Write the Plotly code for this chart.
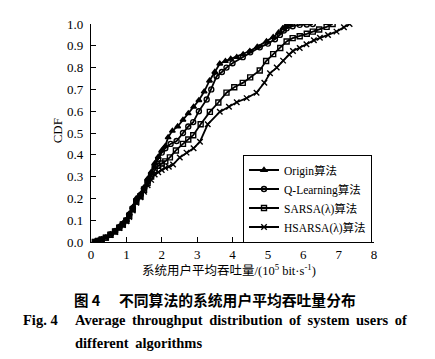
import plotly.graph_objects as go

# ---- data ----
origin_x = [0.11,0.2,0.3,0.42,0.55,0.68,0.8,0.9,1.0,1.08,1.18,1.28,1.4,1.5,1.6,1.7,1.8,1.9,2.0,2.1,2.18,2.3,2.45,2.6,2.75,2.9,3.05,3.2,3.35,3.5,3.64,3.8,3.95,4.12,4.3,4.49,4.7,4.96,5.15,5.3,5.42,5.5,5.62]
origin_y = [0.0,0.005,0.012,0.02,0.035,0.05,0.07,0.085,0.1,0.13,0.16,0.2,0.22,0.25,0.29,0.32,0.36,0.39,0.42,0.44,0.48,0.51,0.53,0.56,0.59,0.62,0.65,0.69,0.74,0.78,0.818,0.83,0.84,0.848,0.86,0.876,0.895,0.92,0.94,0.96,0.98,0.99,1.0]

qlearn_x = [0.11,0.2,0.3,0.42,0.55,0.68,0.8,0.9,1.0,1.08,1.18,1.28,1.4,1.5,1.6,1.7,1.8,1.9,2.0,2.1,2.25,2.42,2.6,2.75,2.89,3.05,3.27,3.4,3.55,3.7,3.83,4.0,4.29,4.5,4.77,5.0,5.2,5.34,5.45,5.53,5.7,5.9,6.1,6.27]
qlearn_y = [0.0,0.005,0.012,0.02,0.035,0.05,0.068,0.083,0.1,0.125,0.155,0.19,0.215,0.245,0.28,0.31,0.35,0.38,0.41,0.43,0.45,0.463,0.5,0.53,0.55,0.6,0.654,0.7,0.76,0.78,0.8,0.82,0.848,0.87,0.893,0.91,0.93,0.95,0.97,0.98,0.99,0.996,0.998,1.0]

sarsa_x = [0.11,0.2,0.3,0.42,0.55,0.68,0.8,0.9,1.0,1.08,1.18,1.28,1.4,1.5,1.6,1.7,1.8,1.9,2.0,2.1,2.23,2.4,2.6,2.75,2.89,3.1,3.36,3.6,3.83,4.05,4.29,4.5,4.77,4.95,5.15,5.35,5.53,5.7,5.9,6.1,6.27,6.45,6.66,6.83]
sarsa_y = [0.0,0.005,0.011,0.02,0.033,0.048,0.066,0.08,0.098,0.12,0.15,0.185,0.21,0.24,0.27,0.3,0.33,0.35,0.36,0.37,0.388,0.42,0.45,0.47,0.49,0.54,0.597,0.64,0.685,0.71,0.73,0.755,0.787,0.83,0.862,0.89,0.92,0.935,0.944,0.955,0.965,0.975,0.987,1.0]

hsarsa_x = [0.11,0.2,0.3,0.42,0.55,0.68,0.8,0.9,1.0,1.08,1.18,1.28,1.4,1.5,1.6,1.7,1.8,1.9,2.0,2.1,2.2,2.32,2.51,2.7,2.9,3.08,3.3,3.64,3.9,4.12,4.4,4.68,4.9,5.06,5.25,5.43,5.6,5.71,5.9,6.09,6.3,6.47,6.7,6.94,7.15,7.31]
hsarsa_y = [0.0,0.005,0.011,0.019,0.032,0.046,0.064,0.078,0.095,0.115,0.145,0.18,0.205,0.23,0.26,0.285,0.31,0.32,0.33,0.34,0.345,0.355,0.388,0.41,0.43,0.46,0.54,0.597,0.62,0.641,0.66,0.685,0.73,0.774,0.8,0.832,0.86,0.876,0.89,0.907,0.925,0.937,0.95,0.965,0.985,1.0]

names = ["Origin算法", "Q-Learning算法", "SARSA(λ)算法", "HSARSA(λ)算法"]
x_ticks = [0, 1, 2, 3, 4, 5, 6, 7, 8]
y_ticks = [0.0, 0.1, 0.2, 0.3, 0.4, 0.5, 0.6, 0.7, 0.8, 0.9, 1.0]

SERIF = "Liberation Serif, Times New Roman, Noto Sans CJK SC, serif"
CJK = "Noto Sans CJK SC, Liberation Serif, sans-serif"

# page body has an 8px default margin: the figure starts at (8, 8)
OFF = 8
W, H = 435 - OFF, 359 - OFF
L, R, T, B = 91 - OFF, 374 - OFF, 17 - OFF, 242.5 - OFF

fig = go.Figure()
series = [
    (origin_x, origin_y, "triangle-up", 5),
    (qlearn_x, qlearn_y, "circle-open", 5),
    (sarsa_x, sarsa_y, "square-open", 5),
    (hsarsa_x, hsarsa_y, "x-thin-open", 5.5),
]
for (xs, ys, sym, sz), nm in zip(series, names):
    fig.add_trace(go.Scatter(
        x=xs, y=ys, name=nm, mode="lines+markers",
        line=dict(color="black", width=1.8),
        marker=dict(symbol=sym, size=sz, color="black",
                    line=dict(color="black", width=1.4)),
    ))

def px_to_paper(px, py):
    px -= OFF
    py -= OFF
    return (px - L) / (R - L), (B - py) / (B - T)

annos = []
def add_text(px, py, text, size, family=SERIF, xanchor="center", textangle=0):
    xp, yp = px_to_paper(px, py)
    annos.append(dict(x=xp, y=yp, xref="paper", yref="paper", text=text,
                      showarrow=False, xanchor=xanchor, yanchor="middle",
                      textangle=textangle,
                      font=dict(family=family, size=size, color="black")))

TS = "\u2009"
add_text(57, 128, "CDF", 13, textangle=-90)
add_text(229, 271, "系统用户平均吞吐量/(10<sup>5</sup> bit·s<sup>-1</sup>)", 12.5)
add_text(72, 302, "<b>图 4</b>", 14.5, family=CJK, xanchor="left")
add_text(117, 302, "<b>不同算法的系统用户平均吞吐量分布</b>", 14.8, family=CJK, xanchor="left")
add_text(21, 323, "<b>Fig. 4</b>", 14.5, xanchor="left")
add_text(73, 323, "<b>" + (" " + TS).join("Average throughput distribution of system users of".split(" ")) + "</b>", 14.5, xanchor="left")
add_text(73, 347, "<b>different" + " " + TS + "algorithms</b>", 14.5, xanchor="left")

lx, ly = px_to_paper(243, 152)

fig.update_layout(
    width=W, height=H,
    margin=dict(l=L, r=W - R, t=T, b=H - B, pad=0),
    paper_bgcolor="white", plot_bgcolor="white",
    font=dict(family=SERIF, size=13, color="black"),
    showlegend=True,
    legend=dict(x=lx, y=ly, xanchor="left", yanchor="top",
                bgcolor="white", bordercolor="black", borderwidth=1,
                font=dict(family=SERIF, size=11.5, color="black"),
                itemwidth=30, tracegroupgap=0),
    annotations=annos,
    xaxis=dict(range=[0, 8], tickvals=x_ticks, ticktext=[str(v) for v in x_ticks],
               showline=True, linecolor="black", linewidth=1.2,
               ticks="inside", ticklen=5, tickcolor="black", tickwidth=1,
               showgrid=False, zeroline=False, mirror=False,
               tickfont=dict(family=SERIF, size=13)),
    yaxis=dict(range=[0, 1.0], tickvals=y_ticks, ticktext=[f"{v:.1f}" for v in y_ticks],
               showline=True, linecolor="black", linewidth=1.2,
               ticks="inside", ticklen=5, tickcolor="black", tickwidth=1,
               showgrid=False, zeroline=False, mirror=False,
               tickfont=dict(family=SERIF, size=13), ticklabelstandoff=4),
)

fig.write_html("out.html")
